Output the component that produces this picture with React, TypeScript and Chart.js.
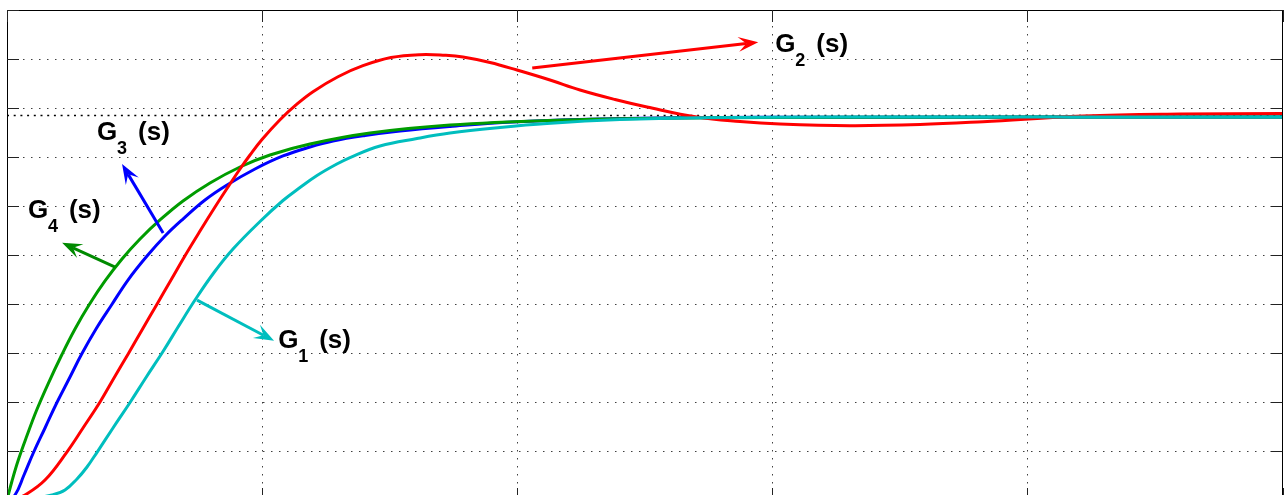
import React, { useEffect, useRef } from "react";
import { Chart, registerables } from "chart.js";

Chart.register(...registerables);

// Axis ticks (grid positions)
const xTicks = [0, 1, 2, 3, 4, 5];
const yTicks = [0, 0.125, 0.25, 0.375, 0.5, 0.625, 0.75, 0.875, 1, 1.125, 1.25];

// Steady-state reference level
const steadyLevel = 0.981;

// G1(s) step response (cyan)
const g1Time = [0, 0.0902, 0.1764, 0.2274, 0.2744, 0.3136, 0.3528, 0.4155, 0.4822, 0.5449, 0.6115, 0.6742, 0.737, 0.8115, 0.8859, 0.9918, 1.0819, 1.1486, 1.2152, 1.2858, 1.3446, 1.4622, 1.6072, 1.7366, 1.9326, 2.1168, 2.403, 2.7048, 3.3046, 5];
const g1Resp = [0, 0.0026, 0.0128, 0.0255, 0.0536, 0.0842, 0.1217, 0.1837, 0.2487, 0.3125, 0.3788, 0.4452, 0.5102, 0.5804, 0.6403, 0.7105, 0.764, 0.7972, 0.8278, 0.8546, 0.8737, 0.9031, 0.9222, 0.9362, 0.9503, 0.9605, 0.9704, 0.9753, 0.9768, 0.977];

// G2(s) step response (red)
const g2Time = [0, 0.0314, 0.0706, 0.149, 0.234, 0.2979, 0.3646, 0.4194, 0.4755, 0.5292, 0.5868, 0.6429, 0.6978, 0.7566, 0.8154, 0.8624, 0.9134, 0.9526, 0.9996, 1.0702, 1.1329, 1.1995, 1.2975, 1.3955, 1.5053, 1.619, 1.717, 1.7875, 1.8934, 1.9992, 2.1286, 2.2462, 2.3834, 2.5088, 2.7048, 2.8734, 3.0302, 3.3046, 3.579, 3.826, 4.218, 4.5982, 5];
const g2Resp = [0, 0.0026, 0.0128, 0.051, 0.1217, 0.1837, 0.25, 0.3112, 0.3732, 0.4337, 0.4982, 0.5612, 0.6232, 0.6862, 0.7474, 0.7946, 0.8444, 0.8801, 0.9196, 0.9702, 1.0079, 1.0416, 1.0798, 1.1079, 1.1286, 1.136, 1.1344, 1.1301, 1.1161, 1.0969, 1.0714, 1.0459, 1.0217, 1.0026, 0.977, 0.9656, 0.9592, 0.9548, 0.9577, 0.9651, 0.9796, 0.9847, 0.986];

// G3(s) step response (blue)
const g3Time = [0, 0.0314, 0.0666, 0.1031, 0.149, 0.1948, 0.247, 0.2928, 0.3489, 0.4104, 0.4743, 0.5488, 0.6194, 0.6899, 0.7762, 0.8624, 0.9722, 1.0819, 1.1878, 1.2779, 1.4034, 1.5406, 1.7366, 1.9835, 2.3246, 2.6382, 3.3046, 5];
const g3Resp = [0, 0.0128, 0.0638, 0.1199, 0.1837, 0.2474, 0.3138, 0.3724, 0.4362, 0.4982, 0.5612, 0.6224, 0.6735, 0.7168, 0.7653, 0.8036, 0.8444, 0.8776, 0.9005, 0.9158, 0.9298, 0.9413, 0.9528, 0.9643, 0.9719, 0.9753, 0.9765, 0.977];

// G4(s) step response (green)
const g4Time = [0, 0.0196, 0.0443, 0.0784, 0.1164, 0.1607, 0.2144, 0.2666, 0.3214, 0.3842, 0.4508, 0.5214, 0.5998, 0.6899, 0.7958, 0.9134, 1.031, 1.1878, 1.423, 1.7366, 2.1286, 2.6382, 3.3046, 5];
const g4Resp = [0, 0.0485, 0.102, 0.1645, 0.2296, 0.2959, 0.3699, 0.4362, 0.4974, 0.5587, 0.6148, 0.6658, 0.7143, 0.7628, 0.8087, 0.8495, 0.8801, 0.9082, 0.9362, 0.9566, 0.9684, 0.9745, 0.9765, 0.977];

// Annotation labels (text) with arrow anchors in data coordinates
const labelNames = ["G", "G", "G", "G"];
const labelSubs = ["1", "2", "3", "4"];
const labelColors = ["#00bebe", "#ff0000", "#0000ff", "#008a00"];
const arrowFrom = [[0.745, 0.51], [2.059, 1.102], [0.612, 0.681], [0.424, 0.594]];
const arrowTo = [[1.047, 0.406], [2.945, 1.168], [0.451, 0.857], [0.216, 0.656]];
const labelAt = [[1.063, 0.388], [3.012, 1.143], [0.353, 0.918], [0.082, 0.719]];

const toXY = (t: number[], v: number[]) => t.map((x, i) => ({ x, y: v[i] }));

const decorPlugin = {
  id: "decor",
  beforeDatasetsDraw(chart: any) {
    const { ctx, chartArea, scales } = chart;
    const { left, right, top, bottom } = chartArea;
    ctx.save();
    ctx.strokeStyle = "rgba(0,0,0,0.75)";
    ctx.lineWidth = 1;
    ctx.setLineDash([1.5, 6.5]);
    xTicks.slice(1, -1).forEach((v) => {
      const px = Math.round(scales.x.getPixelForValue(v)) + 0.5;
      ctx.beginPath();
      ctx.moveTo(px, top);
      ctx.lineTo(px, bottom);
      ctx.stroke();
    });
    yTicks.slice(1, -1).forEach((v) => {
      const py = Math.round(scales.y.getPixelForValue(v)) + 0.5;
      ctx.beginPath();
      ctx.moveTo(left, py);
      ctx.lineTo(right, py);
      ctx.stroke();
    });
    ctx.restore();
  },
  afterDatasetsDraw(chart: any) {
    const { ctx, chartArea, scales } = chart;
    const { left, right, top, bottom } = chartArea;
    const X = (v: number) => scales.x.getPixelForValue(v);
    const Y = (v: number) => scales.y.getPixelForValue(v);
    ctx.save();
    ctx.setLineDash([]);
    ctx.strokeStyle = "#000";
    ctx.lineWidth = 1;
    ctx.strokeRect(Math.round(left) + 0.5, Math.round(top) + 0.5, Math.round(right - left) - 1, Math.round(bottom - top));
    ctx.strokeStyle = "#222";
    const tl = 12;
    yTicks.forEach((v) => {
      const py = Math.round(Y(v)) + 0.5;
      ctx.beginPath();
      ctx.moveTo(left, py);
      ctx.lineTo(left + tl, py);
      ctx.moveTo(right, py);
      ctx.lineTo(right - tl, py);
      ctx.stroke();
    });
    xTicks.forEach((v) => {
      const px = Math.round(X(v)) + 0.5;
      ctx.beginPath();
      ctx.moveTo(px, top);
      ctx.lineTo(px, top + tl);
      ctx.moveTo(px, bottom);
      ctx.lineTo(px, bottom - tl);
      ctx.stroke();
    });
    labelNames.forEach((name, i) => {
      const color = labelColors[i];
      const x0 = X(arrowFrom[i][0]);
      const y0 = Y(arrowFrom[i][1]);
      const x1 = X(arrowTo[i][0]);
      const y1 = Y(arrowTo[i][1]);
      const ang = Math.atan2(y1 - y0, x1 - x0);
      const L = 20;
      const W = 15;
      const ux = Math.cos(ang);
      const uy = Math.sin(ang);
      ctx.strokeStyle = color;
      ctx.fillStyle = color;
      ctx.lineWidth = 3;
      ctx.lineCap = "butt";
      ctx.beginPath();
      ctx.moveTo(x0, y0);
      ctx.lineTo(x1 - ux * L * 0.6, y1 - uy * L * 0.6);
      ctx.stroke();
      ctx.beginPath();
      ctx.moveTo(x1, y1);
      ctx.lineTo(x1 - ux * L - uy * W / 2, y1 - uy * L + ux * W / 2);
      ctx.lineTo(x1 - ux * L * 0.6, y1 - uy * L * 0.6);
      ctx.lineTo(x1 - ux * L + uy * W / 2, y1 - uy * L - ux * W / 2);
      ctx.closePath();
      ctx.fill();

      const lx = X(labelAt[i][0]);
      const ly = Y(labelAt[i][1]);
      ctx.fillStyle = "#000";
      ctx.textBaseline = "alphabetic";
      ctx.textAlign = "left";
      ctx.font = 'bold 26px "Liberation Sans", Arial, sans-serif';
      ctx.fillText(name, lx, ly);
      ctx.fillText("(s)", lx + 41, ly);
      ctx.font = 'bold 18px "Liberation Sans", Arial, sans-serif';
      ctx.fillText(labelSubs[i], lx + 20, ly + 14);
    });
    ctx.restore();
  },
};

export default function App() {
  const ref = useRef<HTMLCanvasElement | null>(null);
  useEffect(() => {
    if (!ref.current) return;
    const line = (data: any, color: string) => ({
      data,
      borderColor: color,
      borderWidth: 3,
      pointRadius: 0,
      tension: 0.4,
      fill: false,
    });
    const chart = new Chart(ref.current, {
      type: "line",
      data: {
        datasets: [
          line(toXY(g1Time, g1Resp), "#00bebe"),
          line(toXY(g2Time, g2Resp), "#ff0000"),
          line(toXY(g4Time, g4Resp), "#009c00"),
          line(toXY(g3Time, g3Resp), "#0000ff"),
          {
            data: [
              { x: xTicks[0], y: steadyLevel },
              { x: xTicks[xTicks.length - 1], y: steadyLevel },
            ],
            borderColor: "#000",
            borderWidth: 1.5,
            borderDash: [2, 4.7],
            pointRadius: 0,
            tension: 0,
            fill: false,
          },
        ],
      },
      options: {
        responsive: false,
        animation: false,
        layout: { padding: { left: 7, top: 10, right: 1.5, bottom: 10 } },
        plugins: { legend: { display: false }, tooltip: { enabled: false } },
        scales: {
          x: { type: "linear", min: 0, max: 5, display: false },
          y: { type: "linear", min: 0, max: 1.25, display: false },
        },
      },
      plugins: [decorPlugin],
    });
    return () => chart.destroy();
  }, []);
  return (
    <div style={{ position: "fixed", left: 0, top: 0, width: 1284, height: 495, overflow: "hidden", background: "#fff" }}>
      <canvas ref={ref} width={1284} height={510} style={{ display: "block", width: 1284, height: 510 }} />
    </div>
  );
}
